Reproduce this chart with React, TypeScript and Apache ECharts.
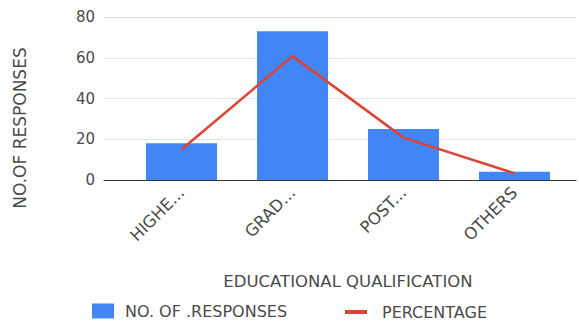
import React, { useEffect, useRef } from "react";
import * as echarts from "echarts";

const categories = ["HIGHE...", "GRAD...", "POST...", "OTHERS"];
const responses = [18, 73, 25, 4];
const percentage = [15, 60.8, 20.8, 3.3];
const yTicks = { min: 0, max: 80, interval: 20 };

const FONT = "DejaVu Sans";
const TXT = "#4a4a4a";

export default function App() {
  const ref = useRef<HTMLDivElement>(null);
  useEffect(() => {
    if (!ref.current) return;
    const chart = echarts.init(ref.current, null, { renderer: "svg" });
    chart.setOption({
      animation: false,
      textStyle: { fontFamily: FONT },
      grid: [
        { left: 126, right: 9, top: 17, bottom: 143 },
        { left: 104, right: 3, top: 17, bottom: 143 },
      ],
      xAxis: [
        {
          type: "category",
          gridIndex: 0,
          data: categories,
          axisLine: { show: false },
          axisTick: { show: false },
          axisLabel: {
            rotate: 45,
            margin: 10,
            color: TXT,
            fontSize: 16.5,
            fontFamily: FONT,
          },
          name: "EDUCATIONAL QUALIFICATION",
          nameLocation: "middle",
          nameGap: 93,
          nameTextStyle: { color: TXT, fontSize: 16.5, fontFamily: FONT },
        },
        {
          type: "category",
          gridIndex: 1,
          data: [""],
          axisLine: { show: true, lineStyle: { color: "#333", width: 1 } },
          axisTick: { show: false },
          axisLabel: { show: false },
        },
      ],
      yAxis: [
        {
          type: "value",
          gridIndex: 0,
          ...yTicks,
          axisLabel: { show: false },
          splitLine: { show: false },
          axisLine: { show: false },
        },
        {
          type: "value",
          gridIndex: 1,
          ...yTicks,
          axisLabel: { color: TXT, fontSize: 15, fontFamily: FONT, margin: 9 },
          splitLine: { show: true, lineStyle: { color: "#e3e3e3", width: 1 } },
          axisLine: { show: false },
          axisTick: { show: false },
        },
      ],
      legend: [
        {
          data: ["NO. OF .RESPONSES"],
          left: 92,
          top: 303,
          padding: 0,
          icon: "rect",
          itemWidth: 22,
          itemHeight: 15,
          textStyle: { color: TXT, fontSize: 16, fontFamily: FONT, padding: [0, 0, 0, 6] },
        },
        {
          data: ["PERCENTAGE"],
          left: 345,
          top: 304,
          padding: 0,
          icon: "rect",
          itemWidth: 22,
          itemHeight: 4,
          textStyle: { color: TXT, fontSize: 16, fontFamily: FONT, padding: [0, 0, 0, 10] },
        },
      ],
      graphic: [
        {
          type: "text",
          x: 20,
          y: 128,
          rotation: Math.PI / 2,
          style: {
            text: "NO.OF RESPONSES",
            fill: TXT,
            font: `17px '${FONT}'`,
            align: "center",
            verticalAlign: "middle",
          },
        },
      ],
      series: [
        {
          name: "NO. OF .RESPONSES",
          type: "bar",
          xAxisIndex: 0,
          yAxisIndex: 0,
          data: responses,
          barCategoryGap: "36%",
          itemStyle: { color: "#4285F4" },
        },
        {
          name: "PERCENTAGE",
          type: "line",
          xAxisIndex: 0,
          yAxisIndex: 0,
          data: percentage,
          symbol: "none",
          lineStyle: { color: "#DB4437", width: 2.5 },
          itemStyle: { color: "#DB4437" },
        },
      ],
    });
    return () => chart.dispose();
  }, []);
  return <div ref={ref} style={{ width: 579, height: 323, position: "absolute", left: 0, top: 0 }} />;
}
